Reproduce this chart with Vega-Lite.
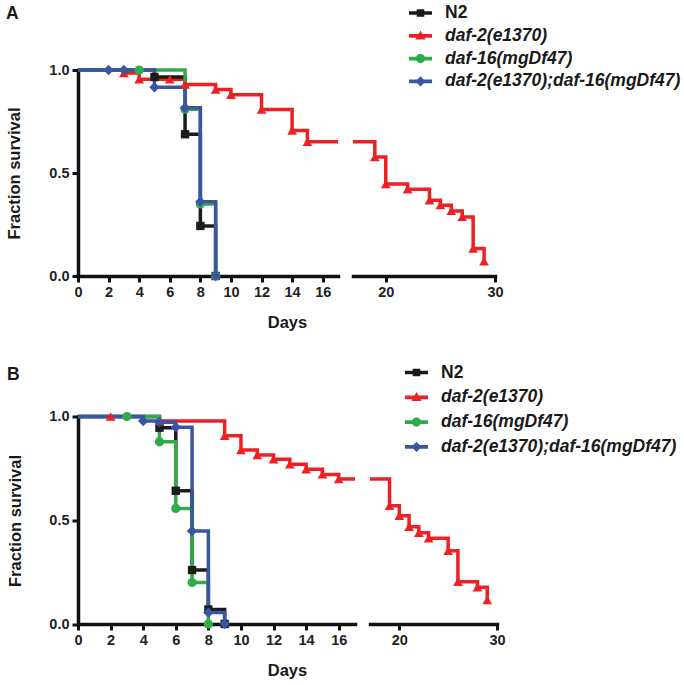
{
  "$schema": "https://vega.github.io/schema/vega-lite/v6.json",
  "background": "white",
  "padding": {"left": 5, "top": 1, "right": 5, "bottom": 5},
  "datasets": {
    "A": [
      {"strain": "N2", "day": 0, "surv": 1},
      {"strain": "N2", "day": 5, "surv": 0.966},
      {"strain": "N2", "day": 7, "surv": 0.688},
      {"strain": "N2", "day": 8, "surv": 0.243},
      {"strain": "N2", "day": 9, "surv": 0},
      {"strain": "daf-2(e1370)", "day": 0, "surv": 1},
      {"strain": "daf-2(e1370)", "day": 3, "surv": 0.985},
      {"strain": "daf-2(e1370)", "day": 4, "surv": 0.955},
      {"strain": "daf-2(e1370)", "day": 6, "surv": 0.955},
      {"strain": "daf-2(e1370)", "day": 7, "surv": 0.93},
      {"strain": "daf-2(e1370)", "day": 9, "surv": 0.905},
      {"strain": "daf-2(e1370)", "day": 10, "surv": 0.88},
      {"strain": "daf-2(e1370)", "day": 12, "surv": 0.808},
      {"strain": "daf-2(e1370)", "day": 14, "surv": 0.706},
      {"strain": "daf-2(e1370)", "day": 15, "surv": 0.652},
      {"strain": "daf-2(e1370)", "day": 19, "surv": 0.578},
      {"strain": "daf-2(e1370)", "day": 20, "surv": 0.446},
      {"strain": "daf-2(e1370)", "day": 22, "surv": 0.421},
      {"strain": "daf-2(e1370)", "day": 24, "surv": 0.368},
      {"strain": "daf-2(e1370)", "day": 25, "surv": 0.344},
      {"strain": "daf-2(e1370)", "day": 26, "surv": 0.316},
      {"strain": "daf-2(e1370)", "day": 27, "surv": 0.287},
      {"strain": "daf-2(e1370)", "day": 28, "surv": 0.133},
      {"strain": "daf-2(e1370)", "day": 29, "surv": 0.072},
      {"strain": "daf-16(mgDf47)", "day": 0, "surv": 1},
      {"strain": "daf-16(mgDf47)", "day": 4, "surv": 1},
      {"strain": "daf-16(mgDf47)", "day": 7, "surv": 0.81},
      {"strain": "daf-16(mgDf47)", "day": 8, "surv": 0.35},
      {"strain": "daf-16(mgDf47)", "day": 9, "surv": 0},
      {"strain": "daf-2(e1370);daf-16(mgDf47)", "day": 0, "surv": 1},
      {"strain": "daf-2(e1370);daf-16(mgDf47)", "day": 2, "surv": 1},
      {"strain": "daf-2(e1370);daf-16(mgDf47)", "day": 3, "surv": 1},
      {"strain": "daf-2(e1370);daf-16(mgDf47)", "day": 5, "surv": 0.916},
      {"strain": "daf-2(e1370);daf-16(mgDf47)", "day": 7, "surv": 0.817},
      {"strain": "daf-2(e1370);daf-16(mgDf47)", "day": 8, "surv": 0.36},
      {"strain": "daf-2(e1370);daf-16(mgDf47)", "day": 9, "surv": 0}
    ],
    "B": [
      {"strain": "N2", "day": 0, "surv": 1},
      {"strain": "N2", "day": 5, "surv": 0.946},
      {"strain": "N2", "day": 6, "surv": 0.642},
      {"strain": "N2", "day": 7, "surv": 0.26},
      {"strain": "N2", "day": 8, "surv": 0.07},
      {"strain": "N2", "day": 9, "surv": 0},
      {"strain": "daf-2(e1370)", "day": 0, "surv": 1},
      {"strain": "daf-2(e1370)", "day": 2, "surv": 1},
      {"strain": "daf-2(e1370)", "day": 5, "surv": 0.978},
      {"strain": "daf-2(e1370)", "day": 9, "surv": 0.907},
      {"strain": "daf-2(e1370)", "day": 10, "surv": 0.838},
      {"strain": "daf-2(e1370)", "day": 11, "surv": 0.814},
      {"strain": "daf-2(e1370)", "day": 12, "surv": 0.794},
      {"strain": "daf-2(e1370)", "day": 13, "surv": 0.77},
      {"strain": "daf-2(e1370)", "day": 14, "surv": 0.746},
      {"strain": "daf-2(e1370)", "day": 15, "surv": 0.721},
      {"strain": "daf-2(e1370)", "day": 16, "surv": 0.699},
      {"strain": "daf-2(e1370)", "day": 19, "surv": 0.57},
      {"strain": "daf-2(e1370)", "day": 20, "surv": 0.522},
      {"strain": "daf-2(e1370)", "day": 21, "surv": 0.469},
      {"strain": "daf-2(e1370)", "day": 22, "surv": 0.44},
      {"strain": "daf-2(e1370)", "day": 23, "surv": 0.413},
      {"strain": "daf-2(e1370)", "day": 25, "surv": 0.353},
      {"strain": "daf-2(e1370)", "day": 26, "surv": 0.204},
      {"strain": "daf-2(e1370)", "day": 28, "surv": 0.177},
      {"strain": "daf-2(e1370)", "day": 29, "surv": 0.115},
      {"strain": "daf-16(mgDf47)", "day": 0, "surv": 1},
      {"strain": "daf-16(mgDf47)", "day": 3, "surv": 1},
      {"strain": "daf-16(mgDf47)", "day": 5, "surv": 0.878},
      {"strain": "daf-16(mgDf47)", "day": 6, "surv": 0.557},
      {"strain": "daf-16(mgDf47)", "day": 7, "surv": 0.2},
      {"strain": "daf-16(mgDf47)", "day": 8, "surv": 0},
      {"strain": "daf-2(e1370);daf-16(mgDf47)", "day": 0, "surv": 1},
      {"strain": "daf-2(e1370);daf-16(mgDf47)", "day": 4, "surv": 0.978},
      {"strain": "daf-2(e1370);daf-16(mgDf47)", "day": 5, "surv": 0.972},
      {"strain": "daf-2(e1370);daf-16(mgDf47)", "day": 6, "surv": 0.948},
      {"strain": "daf-2(e1370);daf-16(mgDf47)", "day": 7, "surv": 0.448},
      {"strain": "daf-2(e1370);daf-16(mgDf47)", "day": 8, "surv": 0.055},
      {"strain": "daf-2(e1370);daf-16(mgDf47)", "day": 9, "surv": 0}
    ]
  },
  "bounds": "flush",
  "spacing": 346.5,
  "resolve": {
    "scale": {"color": "independent"},
    "legend": {"color": "independent"}
  },
  "vconcat": [
    {
      "bounds": "flush",
      "spacing": 15,
      "hconcat": [
        {
          "width": 260,
          "height": 206,
          "data": {"name": "A"},
          "title": {"text": "A", "anchor": "start", "frame": "bounds", "offset": 40},
          "encoding": {
            "x": {"field": "day", "type": "quantitative", "scale": {"domain": [0, 17], "nice": false, "zero": false},
              "axis": {"values": [0, 2, 4, 6, 8, 10, 12, 14, 16], "title": "Days", "titleX": 209, "titleY": 51, "titleAlign": "center", "titleBaseline": "alphabetic"}},
            "y": {"field": "surv", "type": "quantitative", "scale": {"domain": [0, 1], "nice": false},
              "axis": {"values": [0, 0.5, 1], "format": ".1f", "title": "Fraction survival", "titleX": -59, "titleY": 103, "titleAngle": -90, "titleAlign": "center", "titleBaseline": "alphabetic"}},
            "color": {"field": "strain", "type": "nominal",
              "scale": {"domain": ["N2", "daf-2(e1370)", "daf-16(mgDf47)", "daf-2(e1370);daf-16(mgDf47)"], "range": ["#1b1b1b", "#ed2024", "#30aa4b", "#3b55a5"]},
              "legend": {"orient": "none", "legendX": 331, "legendY": -68.5, "rowPadding": 2.8,
                "encode": {
                  "symbols": {"update": {
                    "shape": {"signal": "datum.value === 'N2' ? 'M-1,-0.16H1V0.16H-1Z M-0.33,-0.33H0.33V0.33H-0.33Z' : datum.value === 'daf-2(e1370)' ? 'M-1,-0.16H1V0.16H-1Z M0,-0.45L0.45,0.33L-0.45,0.33Z' : datum.value === 'daf-16(mgDf47)' ? 'M-1,-0.16H1V0.16H-1Z M-0.4,0A0.4,0.4 0 1,1 0.4,0A0.4,0.4 0 1,1 -0.4,0Z' : 'M-1,-0.16H1V0.16H-1Z M0,-0.45L0.45,0L0,0.45L-0.45,0Z'"},
                    "fill": {"signal": "datum.value === 'N2' ? '#1b1b1b' : datum.value === 'daf-2(e1370)' ? '#ed2024' : datum.value === 'daf-16(mgDf47)' ? '#30aa4b' : '#3b55a5'"},
                    "stroke": {"value": "transparent"},
                    "strokeWidth": {"value": 0},
                    "opacity": {"value": 1},
                    "fillOpacity": {"value": 1}
                  }},
                  "labels": {"update": {"fontStyle": {"signal": "datum.value === 'N2' ? 'normal' : 'italic'"}}}
                }}}
          },
          "layer": [
            {"transform": [{"filter": "datum.strain === 'daf-2(e1370)'"}],
             "mark": {"type": "line", "interpolate": "step-after", "strokeWidth": 3.5, "clip": true}},
            {"transform": [{"filter": "datum.strain !== 'daf-2(e1370)'"}],
             "mark": {"type": "line", "interpolate": "step-after", "strokeWidth": 3.5}},
            {"transform": [{"filter": "datum.strain === 'N2' && datum.day > 0"}],
             "mark": {"type": "point", "shape": "square", "filled": true, "size": 70, "opacity": 1}},
            {"transform": [{"filter": "datum.strain === 'daf-2(e1370)' && datum.day > 0 && datum.day <= 17"}],
             "mark": {"type": "point", "shape": "triangle-up", "filled": true, "size": 95, "opacity": 1}},
            {"transform": [{"filter": "datum.strain === 'daf-16(mgDf47)' && datum.day > 0"}],
             "mark": {"type": "point", "shape": "circle", "filled": true, "size": 85, "opacity": 1}},
            {"transform": [{"filter": "datum.strain === 'daf-2(e1370);daf-16(mgDf47)' && datum.day > 0"}],
             "mark": {"type": "point", "shape": "diamond", "filled": true, "size": 110, "opacity": 1}}
          ]
        },
        {
          "width": 142,
          "height": 206,
          "data": {"name": "A"},
          "transform": [{"filter": "datum.strain === 'daf-2(e1370)'"}],
          "encoding": {
            "x": {"field": "day", "type": "quantitative", "scale": {"domain": [17, 30], "nice": false, "zero": false},
              "axis": {"values": [20, 30], "title": null}},
            "y": {"field": "surv", "type": "quantitative", "scale": {"domain": [0, 1], "nice": false}, "axis": null},
            "color": {"field": "strain", "type": "nominal",
              "scale": {"domain": ["N2", "daf-2(e1370)", "daf-16(mgDf47)", "daf-2(e1370);daf-16(mgDf47)"], "range": ["#1b1b1b", "#ed2024", "#30aa4b", "#3b55a5"]},
              "legend": {"orient": "none", "legendX": 331, "legendY": -68.5, "rowPadding": 2.8,
                "encode": {
                  "symbols": {"update": {
                    "shape": {"signal": "datum.value === 'N2' ? 'M-1,-0.16H1V0.16H-1Z M-0.33,-0.33H0.33V0.33H-0.33Z' : datum.value === 'daf-2(e1370)' ? 'M-1,-0.16H1V0.16H-1Z M0,-0.45L0.45,0.33L-0.45,0.33Z' : datum.value === 'daf-16(mgDf47)' ? 'M-1,-0.16H1V0.16H-1Z M-0.4,0A0.4,0.4 0 1,1 0.4,0A0.4,0.4 0 1,1 -0.4,0Z' : 'M-1,-0.16H1V0.16H-1Z M0,-0.45L0.45,0L0,0.45L-0.45,0Z'"},
                    "fill": {"signal": "datum.value === 'N2' ? '#1b1b1b' : datum.value === 'daf-2(e1370)' ? '#ed2024' : datum.value === 'daf-16(mgDf47)' ? '#30aa4b' : '#3b55a5'"},
                    "stroke": {"value": "transparent"},
                    "strokeWidth": {"value": 0},
                    "opacity": {"value": 1},
                    "fillOpacity": {"value": 1}
                  }},
                  "labels": {"update": {"fontStyle": {"signal": "datum.value === 'N2' ? 'normal' : 'italic'"}}}
                }}}
          },
          "layer": [
            {"mark": {"type": "line", "interpolate": "step-after", "strokeWidth": 3.5, "clip": true}},
            {"transform": [{"filter": "datum.day >= 17"}],
             "mark": {"type": "point", "shape": "triangle-up", "filled": true, "size": 95, "opacity": 1}}
          ]
        }
      ]
    },
    {
      "bounds": "flush",
      "spacing": 15,
      "hconcat": [
        {
          "width": 277,
          "height": 207.5,
          "data": {"name": "B"},
          "title": {"text": "B", "anchor": "start", "frame": "bounds", "offset": 25},
          "encoding": {
            "x": {"field": "day", "type": "quantitative", "scale": {"domain": [0, 17], "nice": false, "zero": false},
              "axis": {"values": [0, 2, 4, 6, 8, 10, 12, 14, 16], "title": "Days", "titleX": 209, "titleY": 51, "titleAlign": "center", "titleBaseline": "alphabetic"}},
            "y": {"field": "surv", "type": "quantitative", "scale": {"domain": [0, 1], "nice": false},
              "axis": {"values": [0, 0.5, 1], "format": ".1f", "title": "Fraction survival", "titleX": -58, "titleY": 104, "titleAngle": -90, "titleAlign": "center", "titleBaseline": "alphabetic"}},
            "color": {"field": "strain", "type": "nominal",
              "scale": {"domain": ["N2", "daf-2(e1370)", "daf-16(mgDf47)", "daf-2(e1370);daf-16(mgDf47)"], "range": ["#1b1b1b", "#ed2024", "#30aa4b", "#3b55a5"]},
              "legend": {"orient": "none", "legendX": 327, "legendY": -55.5, "rowPadding": 4.8,
                "encode": {
                  "symbols": {"update": {
                    "shape": {"signal": "datum.value === 'N2' ? 'M-1,-0.16H1V0.16H-1Z M-0.33,-0.33H0.33V0.33H-0.33Z' : datum.value === 'daf-2(e1370)' ? 'M-1,-0.16H1V0.16H-1Z M0,-0.45L0.45,0.33L-0.45,0.33Z' : datum.value === 'daf-16(mgDf47)' ? 'M-1,-0.16H1V0.16H-1Z M-0.4,0A0.4,0.4 0 1,1 0.4,0A0.4,0.4 0 1,1 -0.4,0Z' : 'M-1,-0.16H1V0.16H-1Z M0,-0.45L0.45,0L0,0.45L-0.45,0Z'"},
                    "fill": {"signal": "datum.value === 'N2' ? '#1b1b1b' : datum.value === 'daf-2(e1370)' ? '#ed2024' : datum.value === 'daf-16(mgDf47)' ? '#30aa4b' : '#3b55a5'"},
                    "stroke": {"value": "transparent"},
                    "strokeWidth": {"value": 0},
                    "opacity": {"value": 1},
                    "fillOpacity": {"value": 1}
                  }},
                  "labels": {"update": {"fontStyle": {"signal": "datum.value === 'N2' ? 'normal' : 'italic'"}}}
                }}}
          },
          "layer": [
            {"transform": [{"filter": "datum.strain === 'daf-2(e1370)'"}],
             "mark": {"type": "line", "interpolate": "step-after", "strokeWidth": 3.5, "clip": true}},
            {"transform": [{"filter": "datum.strain !== 'daf-2(e1370)'"}],
             "mark": {"type": "line", "interpolate": "step-after", "strokeWidth": 3.5}},
            {"transform": [{"filter": "datum.strain === 'N2' && datum.day > 0"}],
             "mark": {"type": "point", "shape": "square", "filled": true, "size": 70, "opacity": 1}},
            {"transform": [{"filter": "datum.strain === 'daf-2(e1370)' && datum.day > 0 && datum.day <= 17"}],
             "mark": {"type": "point", "shape": "triangle-up", "filled": true, "size": 95, "opacity": 1}},
            {"transform": [{"filter": "datum.strain === 'daf-16(mgDf47)' && datum.day > 0"}],
             "mark": {"type": "point", "shape": "circle", "filled": true, "size": 85, "opacity": 1}},
            {"transform": [{"filter": "datum.strain === 'daf-2(e1370);daf-16(mgDf47)' && datum.day > 0"}],
             "mark": {"type": "point", "shape": "diamond", "filled": true, "size": 110, "opacity": 1}}
          ]
        },
        {
          "width": 127,
          "height": 207.5,
          "data": {"name": "B"},
          "transform": [{"filter": "datum.strain === 'daf-2(e1370)'"}],
          "encoding": {
            "x": {"field": "day", "type": "quantitative", "scale": {"domain": [17, 30], "nice": false, "zero": false},
              "axis": {"values": [20, 30], "title": null}},
            "y": {"field": "surv", "type": "quantitative", "scale": {"domain": [0, 1], "nice": false}, "axis": null},
            "color": {"field": "strain", "type": "nominal",
              "scale": {"domain": ["N2", "daf-2(e1370)", "daf-16(mgDf47)", "daf-2(e1370);daf-16(mgDf47)"], "range": ["#1b1b1b", "#ed2024", "#30aa4b", "#3b55a5"]},
              "legend": {"orient": "none", "legendX": 327, "legendY": -55.5, "rowPadding": 4.8,
                "encode": {
                  "symbols": {"update": {
                    "shape": {"signal": "datum.value === 'N2' ? 'M-1,-0.16H1V0.16H-1Z M-0.33,-0.33H0.33V0.33H-0.33Z' : datum.value === 'daf-2(e1370)' ? 'M-1,-0.16H1V0.16H-1Z M0,-0.45L0.45,0.33L-0.45,0.33Z' : datum.value === 'daf-16(mgDf47)' ? 'M-1,-0.16H1V0.16H-1Z M-0.4,0A0.4,0.4 0 1,1 0.4,0A0.4,0.4 0 1,1 -0.4,0Z' : 'M-1,-0.16H1V0.16H-1Z M0,-0.45L0.45,0L0,0.45L-0.45,0Z'"},
                    "fill": {"signal": "datum.value === 'N2' ? '#1b1b1b' : datum.value === 'daf-2(e1370)' ? '#ed2024' : datum.value === 'daf-16(mgDf47)' ? '#30aa4b' : '#3b55a5'"},
                    "stroke": {"value": "transparent"},
                    "strokeWidth": {"value": 0},
                    "opacity": {"value": 1},
                    "fillOpacity": {"value": 1}
                  }},
                  "labels": {"update": {"fontStyle": {"signal": "datum.value === 'N2' ? 'normal' : 'italic'"}}}
                }}}
          },
          "layer": [
            {"mark": {"type": "line", "interpolate": "step-after", "strokeWidth": 3.5, "clip": true}},
            {"transform": [{"filter": "datum.day >= 17"}],
             "mark": {"type": "point", "shape": "triangle-up", "filled": true, "size": 95, "opacity": 1}}
          ]
        }
      ]
    }
  ],
  "config": {
    "view": {"stroke": null},
    "font": "Liberation Sans",
    "title": {"font": "Liberation Sans", "fontSize": 17.5, "fontWeight": "bold", "color": "#1a1a1a"},
    "axis": {
      "grid": false,
      "domainColor": "#111111", "domainWidth": 3.5, "domainCap": "square",
      "tickColor": "#111111", "tickWidth": 3, "tickSize": 6,
      "labelFont": "Liberation Sans", "labelFontSize": 14.5, "labelFontWeight": "bold", "labelColor": "#222222",
      "labelPadding": 3, "labelFlush": false, "labelOverlap": false,
      "titleFont": "Liberation Sans", "titleFontSize": 16.5, "titleFontWeight": "bold", "titleColor": "#1a1a1a"
    },
    "legend": {
      "title": null,
      "padding": 0,
      "symbolSize": 529,
      "labelFont": "Liberation Sans", "labelFontSize": 17.5, "labelFontWeight": "bold", "labelColor": "#1a1a1a",
      "labelOffset": 13,
      "labelLimit": 400
    }
  }
}
